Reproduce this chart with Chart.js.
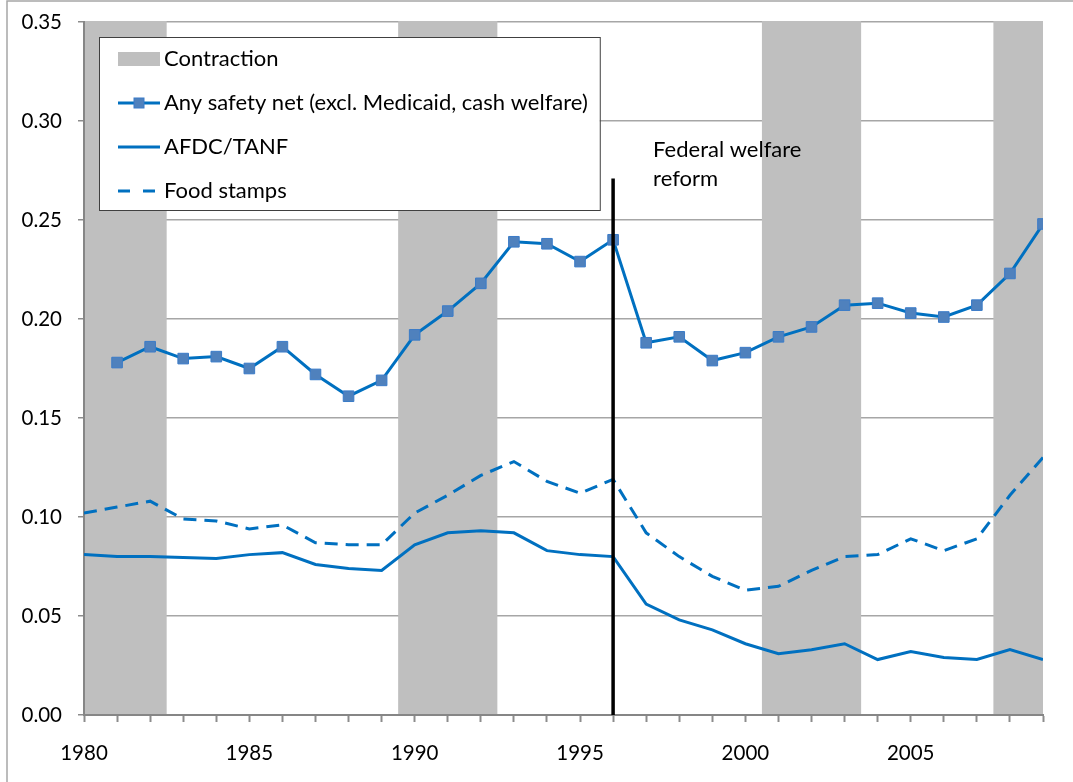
<!DOCTYPE html>
<html>
<head>
<meta charset="utf-8">
<script src="https://cdn.jsdelivr.net/npm/chart.js@4.4.0/dist/chart.umd.min.js"></script>
<style>
  html, body { margin: 0; padding: 0; background: #fff; }
</style>
</head>
<body>
<canvas id="chart" width="1073" height="782"></canvas>
<script>
const years = [1980, 1981, 1982, 1983, 1984, 1985, 1986, 1987, 1988, 1989,
               1990, 1991, 1992, 1993, 1994, 1995, 1996, 1997, 1998, 1999,
               2000, 2001, 2002, 2003, 2004, 2005, 2006, 2007, 2008, 2009];
const safetyNet = [null, 0.178, 0.186, 0.180, 0.181, 0.175, 0.186, 0.172, 0.161, 0.169,
                   0.192, 0.204, 0.218, 0.239, 0.238, 0.229, 0.240, 0.188, 0.191, 0.179,
                   0.183, 0.191, 0.196, 0.207, 0.208, 0.203, 0.201, 0.207, 0.223, 0.248];
const afdcTanf = [0.081, 0.080, 0.080, 0.0795, 0.079, 0.081, 0.082, 0.076, 0.074, 0.073,
                  0.086, 0.092, 0.093, 0.092, 0.083, 0.081, 0.080, 0.056, 0.048, 0.043,
                  0.036, 0.031, 0.033, 0.036, 0.028, 0.032, 0.029, 0.028, 0.033, 0.028];
const foodStamps = [0.102, 0.105, 0.108, 0.099, 0.098, 0.094, 0.096, 0.087, 0.086, 0.086,
                    0.102, 0.111, 0.121, 0.128, 0.118, 0.112, 0.119, 0.092, 0.080, 0.070,
                    0.063, 0.065, 0.073, 0.080, 0.081, 0.089, 0.083, 0.089, 0.111, 0.130];
const contractionStart = [1980, 1989.5, 2000.5, 2007.5];
const contractionEnd = [1982.5, 1992.5, 2003.5, 2009];
const xTickLabels = [1980, 1985, 1990, 1995, 2000, 2005];
const reformYear = 1996;
const reformTop = 0.271;
const reformText = ['Federal welfare', 'reform'];

const blue = '#0070C0';
const bandGray = '#BFBFBF';
const textFont = '22px Lato';

Chart.defaults.font.family = 'Lato';
Chart.defaults.font.size = 20.5;
Chart.defaults.color = '#000';

const toPoints = vals => years.map((y, i) => ({ x: y, y: vals[i] }));

// page frame, like the excel chart border
const framePlugin = {
    id: 'frame',
    beforeDraw(chart) {
        const ctx = chart.ctx;
        ctx.save();
        ctx.strokeStyle = '#a6a6a6';
        ctx.lineWidth = 1.5;
        ctx.strokeRect(7, 1, chart.width + 20, chart.height + 20);
        ctx.restore();
    }
};

// grey recession bands + reform label
const bandsPlugin = {
    id: 'bands',
    beforeDatasetsDraw(chart) {
        const { ctx, chartArea, scales } = chart;
        ctx.save();
        ctx.fillStyle = bandGray;
        contractionStart.forEach((start, i) => {
            const x0 = Math.max(scales.x.getPixelForValue(start), chartArea.left + 1);
            const x1 = scales.x.getPixelForValue(contractionEnd[i]);
            const y0 = scales.y.getPixelForValue(0.35) - 1;
            const y1 = scales.y.getPixelForValue(0) - 1;
            ctx.fillRect(x0, y0, x1 - x0, y1 - y0);
        });
        ctx.restore();
    },
    afterDatasetsDraw(chart) {
        const { ctx, scales } = chart;
        const x = scales.x.getPixelForValue(reformYear) + 40;
        const y = scales.y.getPixelForValue(reformTop);
        ctx.save();
        ctx.font = textFont;
        ctx.fillStyle = '#000';
        ctx.textBaseline = 'middle';
        ctx.fillText(reformText[0], x, y - 29);
        ctx.fillText(reformText[1], x, y);
        ctx.restore();
    }
};

// boxed legend inside the plot, excel style
const boxLegendPlugin = {
    id: 'boxLegend',
    afterDraw(chart) {
        const { ctx, chartArea } = chart;
        const left = chartArea.left + 15;
        const top = chartArea.top + 15;
        const rowH = 44;
        const symX = left + 19, symW = 42;
        const textX = left + 65;
        const items = [{ label: 'Contraction', kind: 'band' }];
        chart.data.datasets.forEach(ds => {
            if (ds.label) items.push({ label: ds.label, ds: ds });
        });
        ctx.save();
        ctx.font = textFont;
        let maxW = 0;
        items.forEach(it => { maxW = Math.max(maxW, ctx.measureText(it.label).width); });
        const w = textX - left + maxW + 12;
        const h = rowH * items.length - 3;
        ctx.fillStyle = '#fff';
        ctx.fillRect(left, top, w, h);
        ctx.strokeStyle = '#404040';
        ctx.lineWidth = 1;
        ctx.strokeRect(left + 0.5, top + 0.5, w, h);

        items.forEach((it, i) => {
            const cy = top + 22 + i * rowH;
            if (it.kind === 'band') {
                ctx.fillStyle = bandGray;
                ctx.fillRect(symX, cy - 7, symW, 14);
            } else {
                ctx.strokeStyle = it.ds.borderColor;
                ctx.lineWidth = it.ds.borderWidth;
                ctx.setLineDash(it.ds.borderDash ? [12, 13] : []);
                ctx.beginPath();
                ctx.moveTo(symX, cy);
                ctx.lineTo(symX + symW, cy);
                ctx.stroke();
                ctx.setLineDash([]);
                if (it.ds.pointRadius > 0) {
                    ctx.fillStyle = it.ds.pointBackgroundColor;
                    ctx.strokeStyle = it.ds.pointBorderColor;
                    ctx.lineWidth = 1;
                    ctx.fillRect(symX + symW / 2 - 5, cy - 5, 10, 10);
                    ctx.strokeRect(symX + symW / 2 - 5, cy - 5, 10, 10);
                }
            }
            ctx.fillStyle = '#000';
            ctx.textBaseline = 'middle';
            ctx.fillText(it.label, textX, cy);
        });
        ctx.restore();
    }
};

new Chart(document.getElementById('chart'), {
    type: 'line',
    data: {
        datasets: [
            {
                data: [{ x: reformYear, y: 0 }, { x: reformYear, y: reformTop }],
                borderColor: '#000',
                borderWidth: 3.5,
                pointRadius: 0
            },
            {
                label: 'Any safety net (excl. Medicaid, cash welfare)',
                data: toPoints(safetyNet),
                borderColor: blue,
                borderWidth: 3,
                pointStyle: 'rect',
                pointRadius: 7.5,
                pointBackgroundColor: '#4F81BD',
                pointBorderColor: '#3A7BC8',
                pointBorderWidth: 1
            },
            {
                label: 'AFDC/TANF',
                data: toPoints(afdcTanf),
                borderColor: blue,
                borderWidth: 3,
                pointRadius: 0
            },
            {
                label: 'Food stamps',
                data: toPoints(foodStamps),
                borderColor: blue,
                borderWidth: 3,
                borderDash: [13, 8],
                pointRadius: 0
            }
        ]
    },
    options: {
        responsive: false,
        animation: false,
        devicePixelRatio: 1,
        layout: { padding: { top: 22, right: 30, left: 0, bottom: 0 } },
        plugins: {
            legend: { display: false },
            tooltip: { enabled: false }
        },
        scales: {
            x: {
                type: 'linear',
                min: 1980,
                max: 2009,
                afterFit: s => { s.height = 67; },
                ticks: {
                    stepSize: 1,
                    autoSkip: false,
                    maxRotation: 0,
                    padding: 19,
                    callback: v => xTickLabels.includes(v) ? String(v) : ''
                },
                grid: {
                    drawOnChartArea: false,
                    tickLength: 7,
                    tickWidth: 2,
                    tickColor: '#8c8c8c'
                },
                border: { color: '#868686', width: 2 }
            },
            y: {
                min: 0,
                max: 0.35,
                afterFit: s => { s.width = 84; s.paddingTop = 0; s.paddingBottom = 0; },
                ticks: {
                    stepSize: 0.05,
                    padding: 16,
                    callback: v => v.toFixed(2)
                },
                grid: {
                    color: '#a6a6a6',
                    lineWidth: 1.5,
                    tickLength: 6,
                    tickColor: '#8c8c8c'
                },
                border: { color: '#868686', width: 2 }
            }
        }
    },
    plugins: [framePlugin, bandsPlugin, boxLegendPlugin]
});
</script>
</body>
</html>
